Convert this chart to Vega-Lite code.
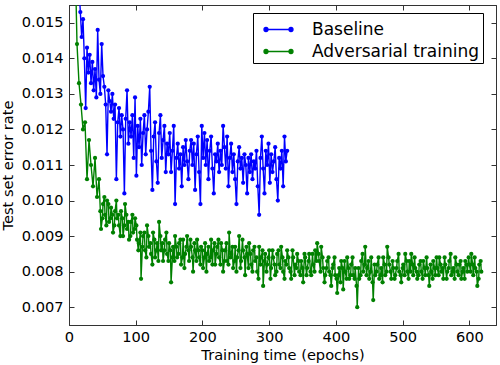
{
"$schema": "https://vega.github.io/schema/vega-lite/v6.json",
"width": 427, "height": 320,
"autosize": "none",
"padding": {"left": 69, "top": 5, "right": 4, "bottom": 40},
"background": "white",
"config": {
  "font": "DejaVu Sans",
  "view": {"stroke": "#333", "strokeWidth": 1},
  "axis": {"domainColor": "#333", "tickColor": "#333", "labelFont": "DejaVu Sans", "labelFontSize": 14.6, "labelColor": "black", "titleFont": "DejaVu Sans", "titleFontSize": 14.6, "titleFontWeight": "normal", "titleColor": "black", "grid": false, "tickSize": -5, "tickWidth": 1}
},
"datasets": {
"base": [
{"e":13,"v":0.0172},{"e":15,"v":0.0160},{"e":17,"v":0.0153},{"e":19,"v":0.0146},{"e":21,"v":0.0151},{"e":23,"v":0.0140},{"e":25,"v":0.0126},{"e":27,"v":0.0143},{"e":29,"v":0.0136},{"e":31,"v":0.0141},{"e":33,"v":0.0133},{"e":35,"v":0.0139},{"e":37,"v":0.0131},{"e":39,"v":0.0137},{"e":41,"v":0.0129},{"e":43,"v":0.0148},{"e":45,"v":0.0134},{"e":47,"v":0.0130},{"e":49,"v":0.0144},{"e":51,"v":0.0135},{"e":53,"v":0.0132},{"e":55,"v":0.0127},{"e":57,"v":0.0113},{"e":59,"v":0.0131},{"e":61,"v":0.0128},{"e":63,"v":0.0125},{"e":65,"v":0.0130},{"e":67,"v":0.0123},{"e":69,"v":0.0127},{"e":71,"v":0.0106},{"e":73,"v":0.0122},{"e":75,"v":0.0126},{"e":77,"v":0.0118},{"e":79,"v":0.0124},{"e":81,"v":0.0120},{"e":83,"v":0.0102},{"e":85,"v":0.0123},{"e":87,"v":0.0131},{"e":89,"v":0.0116},{"e":91,"v":0.0122},{"e":93,"v":0.0118},{"e":95,"v":0.0124},{"e":97,"v":0.0112},{"e":99,"v":0.0129},{"e":101,"v":0.0107},
{"e":103,"v":0.0121},{"e":105,"v":0.0115},{"e":107,"v":0.0123},{"e":109,"v":0.0110},{"e":111,"v":0.0119},{"e":113,"v":0.0124},{"e":115,"v":0.0113},{"e":117,"v":0.0120},{"e":119,"v":0.0125},{"e":121,"v":0.0132},{"e":123,"v":0.0114},{"e":125,"v":0.0103},{"e":127,"v":0.0118},{"e":129,"v":0.0122},{"e":131,"v":0.0111},{"e":133,"v":0.0105},{"e":135,"v":0.0119},{"e":137,"v":0.0124},{"e":139,"v":0.0112},{"e":141,"v":0.0117},{"e":143,"v":0.0121},{"e":145,"v":0.0108},{"e":147,"v":0.0116},{"e":149,"v":0.0113},{"e":151,"v":0.0119},
{"e":153,"v":0.0108},{"e":155,"v":0.0114},{"e":157,"v":0.0121},{"e":159,"v":0.0099},{"e":161,"v":0.0112},{"e":163,"v":0.0116},{"e":165,"v":0.0109},{"e":167,"v":0.0113},{"e":169,"v":0.0104},{"e":171,"v":0.0115},{"e":173,"v":0.0110},{"e":175,"v":0.0117},{"e":177,"v":0.0111},{"e":179,"v":0.0106},{"e":181,"v":0.0114},{"e":183,"v":0.0117},{"e":185,"v":0.0110},{"e":187,"v":0.0116},{"e":189,"v":0.0103},{"e":191,"v":0.0113},{"e":193,"v":0.0118},{"e":195,"v":0.0108},{"e":197,"v":0.0099},{"e":199,"v":0.0121},{"e":201,"v":0.0112},{"e":203,"v":0.0119},{"e":205,"v":0.0110},{"e":207,"v":0.0117},{"e":209,"v":0.0106},{"e":211,"v":0.0114},{"e":213,"v":0.0118},{"e":215,"v":0.0109},{"e":217,"v":0.0102},{"e":219,"v":0.0113},{"e":221,"v":0.0111},{"e":223,"v":0.0116},{"e":225,"v":0.0108},{"e":227,"v":0.0114},{"e":229,"v":0.0110},{"e":231,"v":0.0121},{"e":233,"v":0.0115},{"e":235,"v":0.0109},{"e":237,"v":0.0118},{"e":239,"v":0.0104},{"e":241,"v":0.0112},{"e":243,"v":0.0116},{"e":245,"v":0.0108},{"e":247,"v":0.0113},{"e":249,"v":0.0106},{"e":251,"v":0.0099},{"e":253,"v":0.0111},{"e":255,"v":0.0115},{"e":257,"v":0.0109},{"e":259,"v":0.0112},{"e":261,"v":0.0105},{"e":263,"v":0.0113},{"e":265,"v":0.0110},{"e":267,"v":0.0102},{"e":269,"v":0.0112},{"e":271,"v":0.0108},{"e":273,"v":0.0113},{"e":275,"v":0.0106},{"e":277,"v":0.0111},{"e":279,"v":0.0109},{"e":281,"v":0.0114},{"e":283,"v":0.0104},{"e":285,"v":0.0096},{"e":287,"v":0.0112},{"e":289,"v":0.0118},{"e":291,"v":0.0109},{"e":293,"v":0.0102},{"e":295,"v":0.0114},{"e":297,"v":0.0110},{"e":299,"v":0.0116},{"e":301,"v":0.0105},{"e":303,"v":0.0113},{"e":305,"v":0.0108},{"e":307,"v":0.0111},{"e":309,"v":0.0115},{"e":311,"v":0.0106},{"e":313,"v":0.0100},{"e":315,"v":0.0112},{"e":317,"v":0.0109},{"e":319,"v":0.0114},{"e":321,"v":0.0104},{"e":323,"v":0.0118},{"e":325,"v":0.0111},{"e":327,"v":0.0114}
],
"adv": [
{"e":9,"v":0.0170},{"e":12,"v":0.0144},{"e":15,"v":0.0133},{"e":18,"v":0.0127},{"e":21,"v":0.0120},{"e":24,"v":0.0122},{"e":27,"v":0.0106},{"e":30,"v":0.0117},{"e":33,"v":0.0110},{"e":36,"v":0.0104},{"e":39,"v":0.0112},{"e":42,"v":0.0101},{"e":45,"v":0.0106},{"e":48,"v":0.0092},{"e":51,"v":0.0099},{"e":54,"v":0.0096},{"e":57,"v":0.0100},{"e":60,"v":0.0094},{"e":63,"v":0.0098},{"e":66,"v":0.0091},{"e":69,"v":0.0097},{"e":72,"v":0.0095},{"e":75,"v":0.0093},{"e":78,"v":0.0097},{"e":81,"v":0.0090},{"e":84,"v":0.0099},{"e":87,"v":0.0092},{"e":90,"v":0.0089},{"e":93,"v":0.0094},{"e":96,"v":0.0091},{"e":99,"v":0.0095},{"e":102,"v":0.0089},{"e":105,"v":0.0088},{"e":108,"v":0.0078},{"e":111,"v":0.0090},{"e":114,"v":0.0086},{"e":117,"v":0.0093},{"e":120,"v":0.0087},{"e":123,"v":0.0085},{"e":126,"v":0.0091},{"e":129,"v":0.0084},{"e":132,"v":0.0088},{"e":135,"v":0.0094},{"e":138,"v":0.0086},{"e":141,"v":0.0083},{"e":144,"v":0.0089},{"e":147,"v":0.0085},{"e":150,"v":0.0088},{"e":153,"v":0.0077},{"e":156,"v":0.0087},{"e":159,"v":0.0090},{"e":162,"v":0.0084},{"e":165,"v":0.0088},{"e":168,"v":0.0082},{"e":171,"v":0.0089},{"e":174,"v":0.0085},{"e":177,"v":0.0090},{"e":180,"v":0.0083},{"e":183,"v":0.0087},{"e":186,"v":0.0080},{"e":189,"v":0.0086},{"e":192,"v":0.0089},{"e":195,"v":0.0084},{"e":198,"v":0.0087},{"e":201,"v":0.0081},{"e":204,"v":0.0088},{"e":207,"v":0.0085},{"e":210,"v":0.0083},{"e":213,"v":0.0089},{"e":216,"v":0.0086},{"e":219,"v":0.0082},{"e":222,"v":0.0087},{"e":225,"v":0.0084},{"e":228,"v":0.0088},{"e":231,"v":0.0080},{"e":234,"v":0.0086},{"e":237,"v":0.0083},{"e":240,"v":0.0091},{"e":243,"v":0.0085},{"e":246,"v":0.0081},{"e":249,"v":0.0087},{"e":252,"v":0.0084},{"e":255,"v":0.0090},{"e":258,"v":0.0083},{"e":261,"v":0.0086},{"e":264,"v":0.0079},{"e":267,"v":0.0085},{"e":270,"v":0.0088},{"e":273,"v":0.0082},{"e":276,"v":0.0086},{"e":279,"v":0.0083},{"e":282,"v":0.0080},{"e":285,"v":0.0087},{"e":288,"v":0.0084},{"e":291,"v":0.0076},{"e":294,"v":0.0085},{"e":297,"v":0.0082},{"e":300,"v":0.0086},
{"e":303,"v":0.0081},{"e":306,"v":0.0084},{"e":309,"v":0.0079},{"e":312,"v":0.0085},{"e":315,"v":0.0082},{"e":318,"v":0.0087},{"e":321,"v":0.0080},{"e":324,"v":0.0083},{"e":327,"v":0.0086},{"e":330,"v":0.0081},{"e":333,"v":0.0078},{"e":336,"v":0.0084},{"e":339,"v":0.0082},{"e":342,"v":0.0085},{"e":345,"v":0.0080},{"e":348,"v":0.0083},{"e":351,"v":0.0077},{"e":354,"v":0.0084},{"e":357,"v":0.0081},{"e":360,"v":0.0085},{"e":363,"v":0.0079},{"e":366,"v":0.0082},{"e":369,"v":0.0086},{"e":372,"v":0.0088},{"e":375,"v":0.0083},{"e":378,"v":0.0087},{"e":381,"v":0.0081},{"e":384,"v":0.0079},{"e":387,"v":0.0083},{"e":390,"v":0.0080},{"e":393,"v":0.0076},{"e":396,"v":0.0082},{"e":399,"v":0.0079},{"e":402,"v":0.0074},{"e":405,"v":0.0081},{"e":408,"v":0.0083},{"e":411,"v":0.0075},{"e":414,"v":0.0080},{"e":417,"v":0.0084},{"e":420,"v":0.0078},{"e":423,"v":0.0082},{"e":426,"v":0.0079},{"e":429,"v":0.0081},{"e":432,"v":0.0070},{"e":435,"v":0.0078},{"e":438,"v":0.0083},{"e":441,"v":0.0080},{"e":444,"v":0.0087},{"e":447,"v":0.0081},{"e":450,"v":0.0078},{"e":453,"v":0.0084},{"e":456,"v":0.0072},{"e":459,"v":0.0079},{"e":462,"v":0.0082},{"e":465,"v":0.0078},{"e":468,"v":0.0081},{"e":471,"v":0.0084},{"e":474,"v":0.0079},{"e":477,"v":0.0087},{"e":480,"v":0.0082},{"e":483,"v":0.0078},{"e":486,"v":0.0081},{"e":489,"v":0.0079},{"e":492,"v":0.0083},{"e":495,"v":0.0080},{"e":498,"v":0.0077},{"e":501,"v":0.0082},{"e":504,"v":0.0085},{"e":507,"v":0.0080},{"e":510,"v":0.0083},{"e":513,"v":0.0085},{"e":516,"v":0.0079},{"e":519,"v":0.0081},{"e":522,"v":0.0078},{"e":525,"v":0.0082},{"e":528,"v":0.0080},{"e":531,"v":0.0083},{"e":534,"v":0.0079},{"e":537,"v":0.0081},{"e":540,"v":0.0076},{"e":543,"v":0.0080},{"e":546,"v":0.0083},{"e":549,"v":0.0079},{"e":552,"v":0.0081},{"e":555,"v":0.0084},{"e":558,"v":0.0080},{"e":561,"v":0.0078},{"e":564,"v":0.0082},{"e":567,"v":0.0080},{"e":570,"v":0.0083},{"e":573,"v":0.0079},{"e":576,"v":0.0081},{"e":579,"v":0.0084},{"e":582,"v":0.0080},{"e":585,"v":0.0082},{"e":588,"v":0.0078},{"e":591,"v":0.0081},{"e":594,"v":0.0083},{"e":597,"v":0.0080},{"e":600,"v":0.0082},{"e":603,"v":0.0085},{"e":606,"v":0.0079},{"e":609,"v":0.0081},{"e":612,"v":0.0076},{"e":615,"v":0.0082},{"e":618,"v":0.0080},
{"e":47,"v":0.0097},{"e":50,"v":0.0095},{"e":53,"v":0.0101},{"e":56,"v":0.0093},{"e":59,"v":0.0099},{"e":62,"v":0.0095},{"e":65,"v":0.0096},{"e":68,"v":0.0093},{"e":71,"v":0.0100},{"e":74,"v":0.0096},{"e":77,"v":0.0090},{"e":80,"v":0.0095},{"e":83,"v":0.0093},{"e":86,"v":0.0096},{"e":89,"v":0.0094},{"e":92,"v":0.0090},{"e":95,"v":0.0096},{"e":98,"v":0.0092},{"e":101,"v":0.0093},{"e":104,"v":0.0086},{"e":107,"v":0.0091},{"e":110,"v":0.0087},{"e":113,"v":0.0091},{"e":116,"v":0.0084},{"e":119,"v":0.0090},{"e":122,"v":0.0088},{"e":125,"v":0.0082},{"e":128,"v":0.0089},{"e":131,"v":0.0086},{"e":134,"v":0.0083},{"e":137,"v":0.0090},{"e":140,"v":0.0088},{"e":143,"v":0.0086},{"e":146,"v":0.0091},{"e":149,"v":0.0083},{"e":152,"v":0.0086},{"e":155,"v":0.0084},{"e":158,"v":0.0083},{"e":161,"v":0.0087},{"e":164,"v":0.0085},{"e":167,"v":0.0089},{"e":170,"v":0.0084},{"e":173,"v":0.0081},{"e":176,"v":0.0087},{"e":179,"v":0.0086},{"e":182,"v":0.0089},{"e":185,"v":0.0084},{"e":188,"v":0.0088},{"e":191,"v":0.0083},{"e":194,"v":0.0086},{"e":197,"v":0.0082},{"e":200,"v":0.0086},{"e":203,"v":0.0084},{"e":206,"v":0.0080},{"e":209,"v":0.0087},{"e":212,"v":0.0084},{"e":215,"v":0.0082},{"e":218,"v":0.0088},{"e":221,"v":0.0085},{"e":224,"v":0.0089},{"e":227,"v":0.0082},{"e":230,"v":0.0086},{"e":233,"v":0.0083},{"e":236,"v":0.0088},{"e":239,"v":0.0082},{"e":242,"v":0.0084},{"e":245,"v":0.0087},{"e":248,"v":0.0083},{"e":251,"v":0.0080},{"e":254,"v":0.0086},{"e":257,"v":0.0081},{"e":260,"v":0.0089},{"e":263,"v":0.0084},{"e":266,"v":0.0087},{"e":269,"v":0.0081},{"e":272,"v":0.0085},{"e":275,"v":0.0080},{"e":278,"v":0.0087},{"e":281,"v":0.0084},{"e":284,"v":0.0078},{"e":287,"v":0.0082},{"e":290,"v":0.0086},{"e":293,"v":0.0083},{"e":296,"v":0.0080},{"e":299,"v":0.0084},{"e":302,"v":0.0078},{"e":305,"v":0.0086},{"e":308,"v":0.0082},{"e":311,"v":0.0080},{"e":314,"v":0.0086},{"e":317,"v":0.0081},{"e":320,"v":0.0084},{"e":323,"v":0.0078},{"e":326,"v":0.0082},{"e":329,"v":0.0084},{"e":332,"v":0.0080},{"e":335,"v":0.0086},{"e":338,"v":0.0079},{"e":341,"v":0.0081},{"e":344,"v":0.0083},{"e":347,"v":0.0079},{"e":350,"v":0.0081},{"e":353,"v":0.0085},{"e":356,"v":0.0079},{"e":359,"v":0.0083},{"e":362,"v":0.0080},{"e":365,"v":0.0085},{"e":368,"v":0.0080},{"e":371,"v":0.0083},{"e":374,"v":0.0085},{"e":377,"v":0.0080},{"e":380,"v":0.0084},{"e":383,"v":0.0077},{"e":386,"v":0.0081},{"e":389,"v":0.0084},{"e":392,"v":0.0079},{"e":395,"v":0.0081},{"e":398,"v":0.0084},{"e":401,"v":0.0078},{"e":404,"v":0.0079},{"e":407,"v":0.0077},{"e":410,"v":0.0081},{"e":413,"v":0.0083},{"e":416,"v":0.0078},{"e":419,"v":0.0081},{"e":422,"v":0.0079},{"e":425,"v":0.0084},{"e":428,"v":0.0078},{"e":431,"v":0.0076},{"e":434,"v":0.0081},{"e":437,"v":0.0079},{"e":440,"v":0.0085},{"e":443,"v":0.0082},{"e":446,"v":0.0079},{"e":449,"v":0.0083},{"e":452,"v":0.0080},{"e":455,"v":0.0077},{"e":458,"v":0.0082},{"e":461,"v":0.0080},{"e":464,"v":0.0084},{"e":467,"v":0.0079},{"e":470,"v":0.0077},{"e":473,"v":0.0082},{"e":476,"v":0.0080},{"e":479,"v":0.0084},{"e":482,"v":0.0080},{"e":485,"v":0.0083},{"e":488,"v":0.0078},{"e":491,"v":0.0081},{"e":494,"v":0.0085},{"e":497,"v":0.0079},{"e":500,"v":0.0081},{"e":503,"v":0.0079},{"e":506,"v":0.0083},{"e":509,"v":0.0078},{"e":512,"v":0.0080},{"e":515,"v":0.0082},{"e":518,"v":0.0084},{"e":521,"v":0.0080},{"e":524,"v":0.0079},{"e":527,"v":0.0083},{"e":530,"v":0.0078},{"e":533,"v":0.0081},{"e":536,"v":0.0084},{"e":539,"v":0.0079},{"e":542,"v":0.0082},{"e":545,"v":0.0078},{"e":548,"v":0.0081},{"e":551,"v":0.0084},{"e":554,"v":0.0079},{"e":557,"v":0.0082},{"e":560,"v":0.0081},{"e":563,"v":0.0084},{"e":566,"v":0.0078},{"e":569,"v":0.0081},{"e":572,"v":0.0085},{"e":575,"v":0.0080},{"e":578,"v":0.0078},{"e":581,"v":0.0082},{"e":584,"v":0.0079},{"e":587,"v":0.0083},{"e":590,"v":0.0080},{"e":593,"v":0.0078},{"e":596,"v":0.0082},{"e":599,"v":0.0084},{"e":602,"v":0.0080},{"e":605,"v":0.0082},{"e":608,"v":0.0084},{"e":611,"v":0.0080},{"e":614,"v":0.0078},{"e":617,"v":0.0083}
]
},
"layer": [
  {"data": {"name": "base"},
   "mark": {"type": "line", "strokeWidth": 1.4, "clip": true},
   "encoding": {
     "x": {"field": "e", "type": "quantitative", "scale": {"domain": [0, 640], "nice": false, "zero": false},
           "axis": {"orient": "bottom", "values": [0,100,200,300,400,500,600], "title": "Training time (epochs)", "labelPadding": 9, "titlePadding": 4, "labelFlush": false}},
     "y": {"field": "v", "type": "quantitative", "scale": {"domain": [0.0065, 0.0155], "nice": false, "zero": false},
           "axis": {"orient": "left", "values": [0.007,0.008,0.009,0.010,0.011,0.012,0.013,0.014,0.015], "format": ".3f", "title": "Test set error rate", "labelPadding": 11, "titlePadding": 6, "labelFlush": false}},
     "color": {"datum": "Baseline", "type": "nominal",
       "scale": {"domain": ["Baseline", "Adversarial training"], "range": ["#0000ff", "#008000"]},
       "legend": {"orient": "none", "legendX": 184, "legendY": 8, "title": null,
         "symbolType": "M-1,0L1,0M-0.84,0A0.16,0.16,0,1,1,-1.16,0A0.16,0.16,0,1,1,-0.84,0ZM1.16,0A0.16,0.16,0,1,1,0.84,0A0.16,0.16,0,1,1,1.16,0Z",
         "symbolSize": 625, "symbolStrokeWidth": 1.3, "symbolOffset": 9,
         "labelFont": "DejaVu Sans", "labelFontSize": 17, "labelColor": "black", "labelOffset": 20, "labelLimit": 400,
         "padding": 3, "rowPadding": 0, "strokeColor": "black", "fillColor": "white", "cornerRadius": 0,
         "encode": {"symbols": {"update": {"fill": {"scale": "color", "field": "value"}, "stroke": {"scale": "color", "field": "value"}}}}}}
   }},
  {"data": {"name": "base"},
   "mark": {"type": "point", "filled": true, "size": 18, "opacity": 1, "clip": true},
   "encoding": {
     "x": {"field": "e", "type": "quantitative", "axis": null},
     "y": {"field": "v", "type": "quantitative", "axis": null},
     "color": {"datum": "Baseline", "type": "nominal"}
   }},
  {"data": {"name": "adv"},
   "mark": {"type": "line", "strokeWidth": 1.4, "clip": true},
   "encoding": {
     "x": {"field": "e", "type": "quantitative",
           "axis": {"orient": "top", "values": [0,100,200,300,400,500,600], "labels": false, "title": null}},
     "y": {"field": "v", "type": "quantitative",
           "axis": {"orient": "right", "values": [0.007,0.008,0.009,0.010,0.011,0.012,0.013,0.014,0.015], "labels": false, "title": null}},
     "color": {"datum": "Adversarial training", "type": "nominal"}
   }},
  {"data": {"name": "adv"},
   "mark": {"type": "point", "filled": true, "size": 18, "opacity": 1, "clip": true},
   "encoding": {
     "x": {"field": "e", "type": "quantitative", "axis": null},
     "y": {"field": "v", "type": "quantitative", "axis": null},
     "color": {"datum": "Adversarial training", "type": "nominal"}
   }}
],
"resolve": {"axis": {"x": "independent", "y": "independent"}}
}
